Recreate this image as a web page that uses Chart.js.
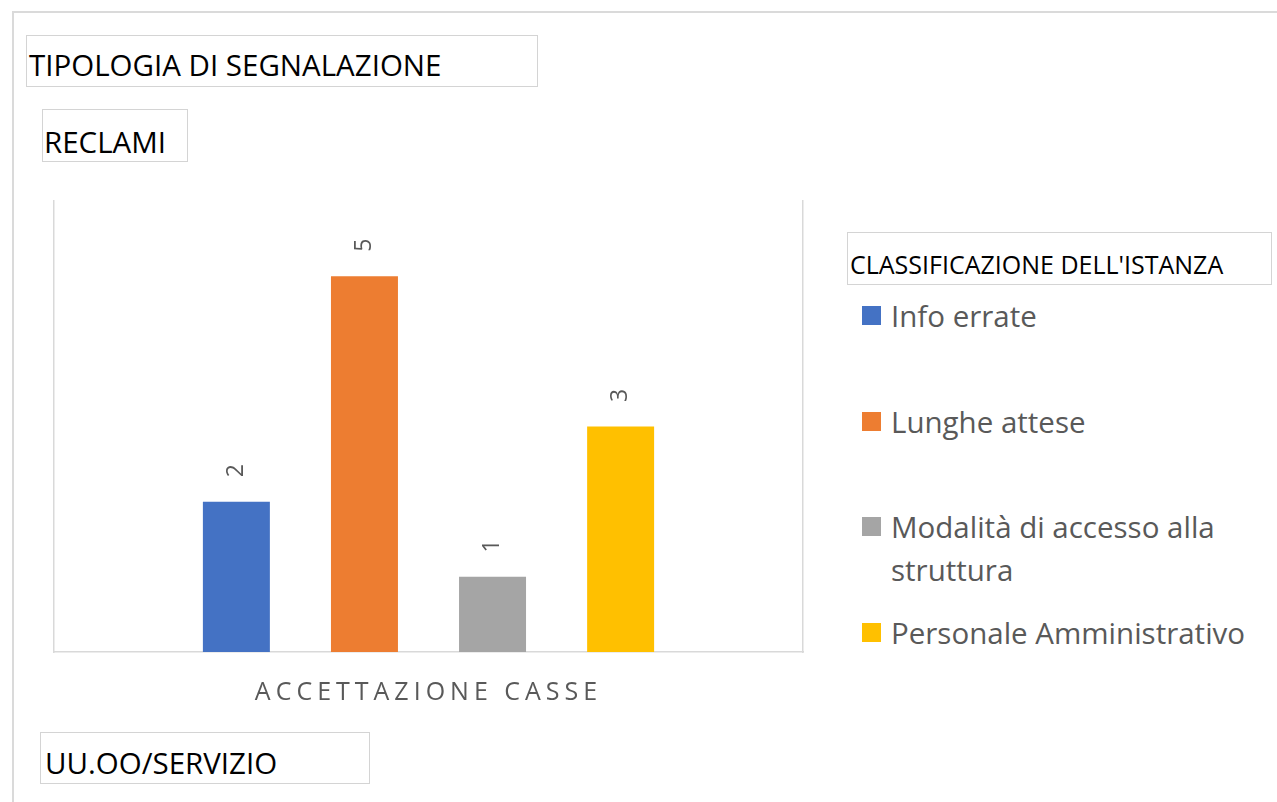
<!DOCTYPE html>
<html lang="it">
<head>
<meta charset="utf-8">
<title>Tipologia di segnalazione - Reclami</title>
<script src="https://cdn.jsdelivr.net/npm/chart.js@4/dist/chart.umd.min.js"></script>
<style>
    html, body {
        margin: 0;
        padding: 0;
        background: #ffffff;
    }
    body {
        position: relative;
        width: 1277px;
        height: 802px;
        overflow: hidden;
        font-family: "Open Sans", "Noto Sans", sans-serif;
    }
    #frame {
        position: absolute;
        left: 12px;
        top: 11px;
        width: 1400px;
        height: 900px;
        border: 2px solid #dadada;
        box-sizing: border-box;
    }
    .field {
        position: absolute;
        box-sizing: border-box;
        border: 1.5px solid #d4d4d4;
        color: #000000;
        font-size: 29.5px;
        line-height: 1;
        white-space: nowrap;
    }
    #chartBox {
        position: absolute;
        left: 20px;
        top: 180px;
        width: 800px;
        height: 554px;
    }
    #legendTitle {
        font-size: 25px;
    }
    .legend-item {
        position: absolute;
        left: 862px;
        display: flex;
        align-items: flex-start;
        color: #595959;
        font-size: 29.5px;
        line-height: 43px;
    }
    .legend-item .swatch {
        width: 19px;
        height: 19px;
        margin-top: 12px;
        margin-right: 10px;
        flex: none;
    }
    .legend-item .text {
        width: 372px;
    }
</style>
</head>
<body>
<div id="frame"></div>

<div class="field" id="fieldFilter" style="left:26px; top:35px; width:512px; height:52px; padding:14px 0 0 2px;"></div>
<div class="field" id="fieldValues" style="left:42px; top:109px; width:146px; height:53px; padding:17px 0 0 1px;"></div>
<div class="field" id="fieldLegend" style="left:847px; top:232px; width:425px; height:53px; padding:15px 0 0 2px;"><span id="legendTitle"></span></div>
<div class="field" id="fieldAxis" style="left:40px; top:732px; width:330px; height:52px; padding:15px 0 0 4px;"></div>

<div id="chartBox"><canvas id="chartCanvas"></canvas></div>
<div id="legend"></div>

<script>
// Chart data
const categories = ["ACCETTAZIONE CASSE"];
const seriesNames = ["Info errate", "Lunghe attese", "Modalità di accesso alla struttura", "Personale Amministrativo"];
const seriesValues = [2, 5, 1, 3];
const yMin = 0;
const yMax = 6;

// Pivot field buttons and legend title
const filterField = "TIPOLOGIA DI SEGNALAZIONE";
const valuesField = "RECLAMI";
const legendField = "CLASSIFICAZIONE DELL'ISTANZA";
const axisField = "UU.OO/SERVIZIO";

// Office palette
const seriesColors = ["#4472C4", "#ED7D31", "#A5A5A5", "#FFC000"];
const lineColor = "#d9d9d9";
const textGray = "#595959";

// Vertical position of each legend entry
const legendItemTops = [294, 400, 505, 611];

document.getElementById("fieldFilter").textContent = filterField;
document.getElementById("fieldValues").textContent = valuesField;
document.getElementById("legendTitle").textContent = legendField;
document.getElementById("fieldAxis").textContent = axisField;

// Spaced-out category label, like the Excel axis text
const axisLetterSpacing = {
    id: "axisLetterSpacing",
    beforeDraw(chart) {
        chart.ctx.letterSpacing = "5px";
    }
};

// Rotated value labels above each bar
const barValueLabels = {
    id: "barValueLabels",
    afterDatasetsDraw(chart) {
        const ctx = chart.ctx;
        ctx.save();
        ctx.letterSpacing = "0px";
        ctx.font = '23px "Open Sans"';
        ctx.fillStyle = textGray;
        ctx.textAlign = "center";
        ctx.textBaseline = "middle";
        chart.data.datasets.forEach((dataset, i) => {
            const meta = chart.getDatasetMeta(i);
            meta.data.forEach((bar, j) => {
                ctx.save();
                ctx.translate(bar.x, bar.y - 31);
                ctx.rotate(-Math.PI / 2);
                ctx.fillText(String(dataset.data[j]), 0, 0);
                ctx.restore();
            });
        });
        ctx.restore();
    }
};

const hiddenAxis = (position) => ({
    position: position,
    min: yMin,
    max: yMax,
    ticks: { display: false },
    grid: { display: false, drawTicks: false },
    border: { display: true, color: lineColor, width: 1.5 }
});

const ctx = document.getElementById("chartCanvas").getContext("2d");
const myChart = new Chart(ctx, {
    type: "bar",
    data: {
        labels: categories,
        datasets: seriesNames.map((name, i) => ({
            label: name,
            data: [seriesValues[i]],
            backgroundColor: seriesColors[i],
            borderWidth: 0,
            yAxisID: "y",
            categoryPercentage: 0.684,
            barPercentage: 0.523
        }))
    },
    options: {
        responsive: true,
        maintainAspectRatio: false,
        animation: false,
        layout: {
            padding: { left: 34, right: 17, top: 21, bottom: 0 }
        },
        plugins: {
            legend: { display: false },
            tooltip: { enabled: false }
        },
        scales: {
            x: {
                ticks: {
                    color: textGray,
                    font: { family: "Open Sans", size: 25 },
                    padding: 26
                },
                grid: { display: false, drawTicks: false },
                border: { display: true, color: lineColor, width: 1.5 }
            },
            y: hiddenAxis("left"),
            yRight: hiddenAxis("right")
        }
    },
    plugins: [axisLetterSpacing, barValueLabels]
});

// HTML legend built from the chart's own legend items
const legendElement = document.getElementById("legend");
const legendItems = Chart.defaults.plugins.legend.labels.generateLabels(myChart);
legendItems.forEach((item, i) => {
    const row = document.createElement("div");
    row.className = "legend-item";
    row.style.top = legendItemTops[i] + "px";
    const swatch = document.createElement("span");
    swatch.className = "swatch";
    swatch.style.background = item.fillStyle;
    const text = document.createElement("span");
    text.className = "text";
    text.textContent = item.text;
    row.appendChild(swatch);
    row.appendChild(text);
    legendElement.appendChild(row);
});
</script>
</body>
</html>
